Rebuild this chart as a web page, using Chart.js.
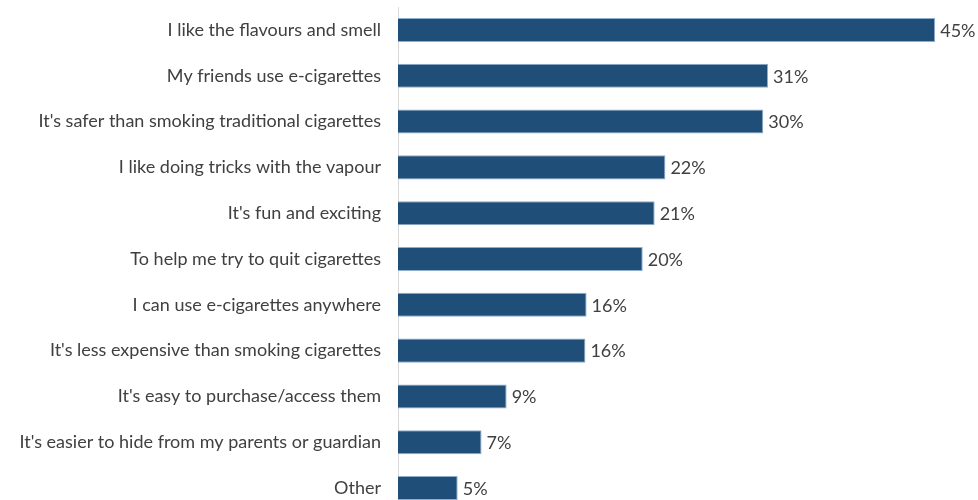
<!DOCTYPE html>
<html>
<head>
<meta charset="utf-8">
<script src="https://cdn.jsdelivr.net/npm/chart.js@4"></script>
<style>
html,body{margin:0;padding:0;background:#fff;overflow:hidden;}
#wrap{width:978px;height:500px;overflow:hidden;}
</style>
</head>
<body>
<div id="wrap"><canvas id="c" width="978" height="512"></canvas></div>
<script>
const categories = [
  "I like the flavours and smell",
  "My friends use e-cigarettes",
  "It's safer than smoking traditional cigarettes",
  "I like doing tricks with the vapour",
  "It's fun and exciting",
  "To help me try to quit cigarettes",
  "I can use e-cigarettes anywhere",
  "It's less expensive than smoking cigarettes",
  "It's easy to purchase/access them",
  "It's easier to hide from my parents or guardian",
  "Other"
];
const values = [45, 31, 30.6, 22.4, 21.5, 20.5, 15.8, 15.7, 9.1, 7, 5];
const valueLabels = ["45%", "31%", "30%", "22%", "21%", "20%", "16%", "16%", "9%", "7%", "5%"];

const FONT = "Lato";
const valueLabelPlugin = {
  id: 'valueLabels',
  afterDatasetsDraw(chart) {
    const ctx = chart.ctx;
    const meta = chart.getDatasetMeta(0);
    ctx.save();
    ctx.font = "18px '" + FONT + "'";
    ctx.fillStyle = "#404040";
    ctx.textAlign = "left";
    ctx.textBaseline = "middle";
    meta.data.forEach((bar, i) => {
      ctx.fillText(valueLabels[i], bar.x + 5, bar.y + 1);
    });
    ctx.restore();
  }
};

new Chart(document.getElementById('c'), {
  type: 'bar',
  data: {
    labels: categories,
    datasets: [{
      data: values,
      backgroundColor: '#1f4e79',
      borderColor: '#8fadcc',
      borderWidth: 1,
      borderSkipped: 'start',
      categoryPercentage: 0.525,
      barPercentage: 1.0
    }]
  },
  options: {
    indexAxis: 'y',
    responsive: false,
    animation: false,
    layout: { padding: { top: 7, bottom: 1, right: 7, left: 0 } },
    plugins: { legend: { display: false }, tooltip: { enabled: false } },
    scales: {
      x: { display: false, min: 0, max: 48 },
      y: {
        grid: { display: false, drawTicks: false },
        border: { display: true, color: '#d9d9d9', width: 1 },
        ticks: { color: '#404040', font: { family: FONT, size: 18 }, padding: 17 },
        afterFit(scale) {
          scale.width = 398;
          scale.paddingTop = 0;
          scale.paddingBottom = 0;
        }
      }
    }
  },
  plugins: [valueLabelPlugin]
});
</script>
</body>
</html>
